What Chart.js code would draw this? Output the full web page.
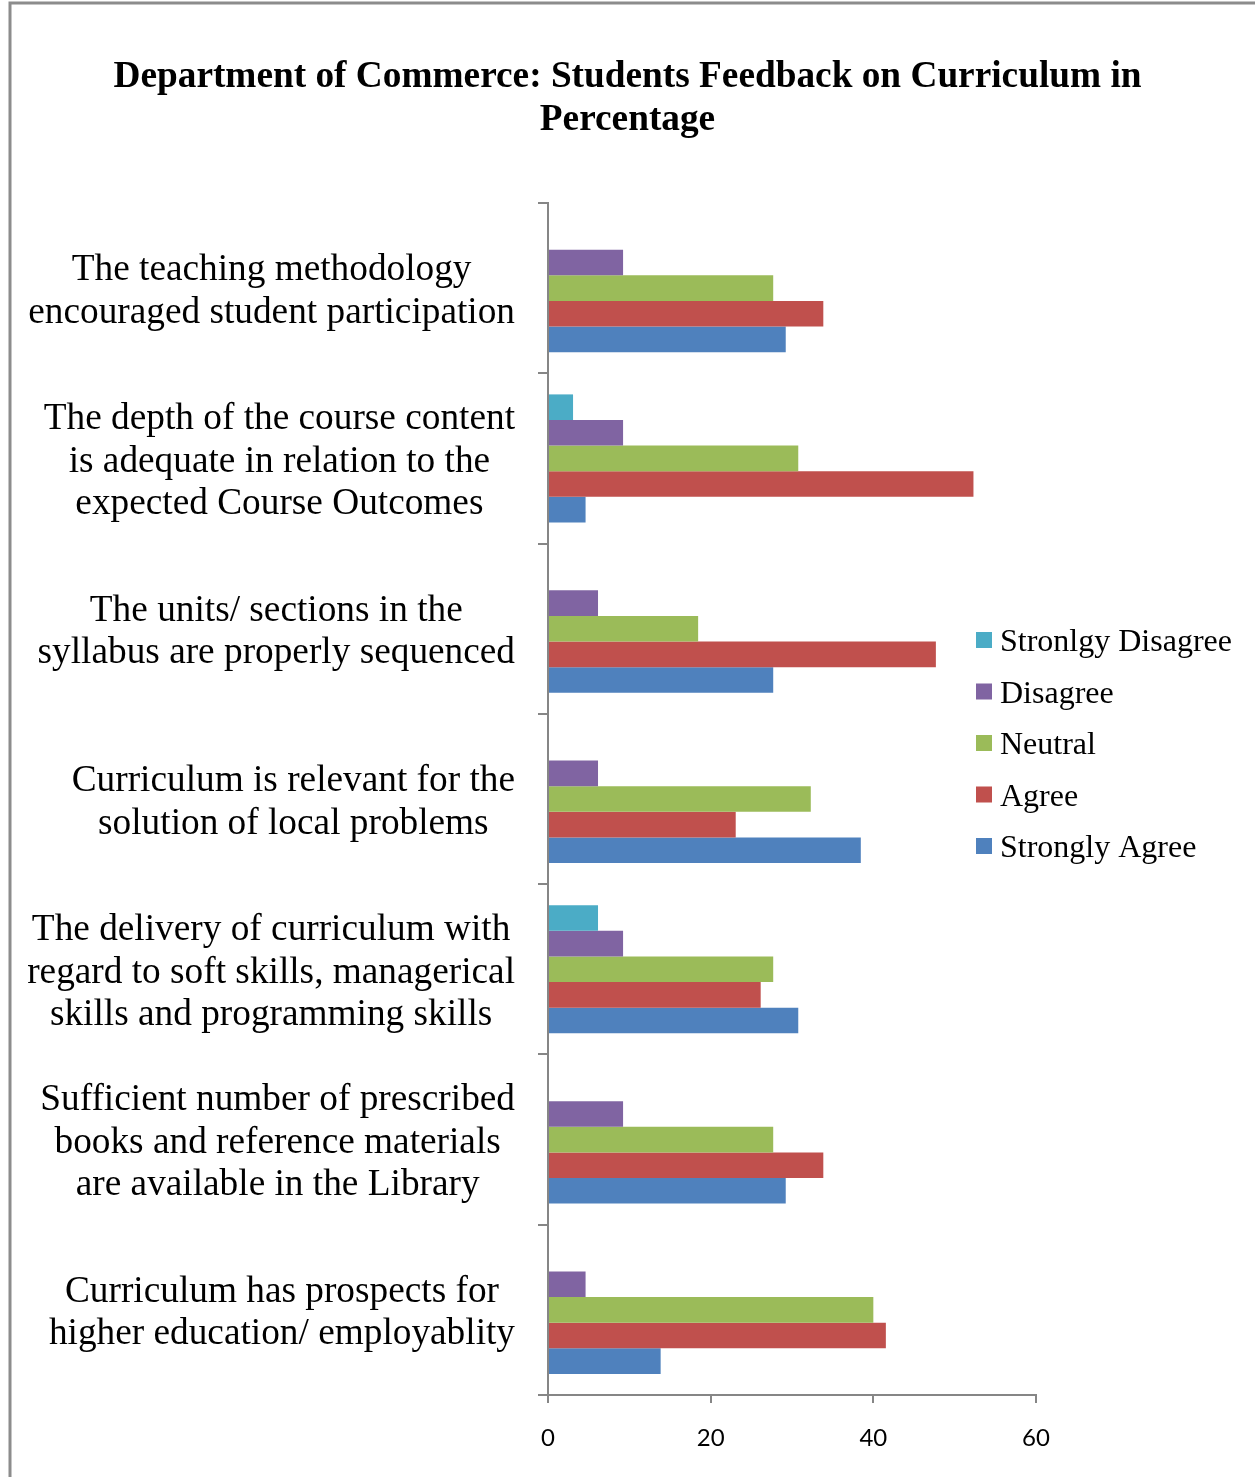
<!DOCTYPE html>
<html>
<head>
<meta charset="utf-8">
<style>
  body { margin: 0; background: #fff; }
</style>
<script src="https://cdn.jsdelivr.net/npm/chart.js@4"></script>
</head>
<body>
<canvas id="grafico" width="1255" height="1477"></canvas>
<script>
// Dados =====================================================================

const categories = [
  ["The teaching methodology", "encouraged student participation"],
  ["The depth of the course content", "is adequate in relation to the", "expected Course Outcomes"],
  ["The units/ sections in the", "syllabus are properly sequenced"],
  ["Curriculum is relevant for the", "solution of local problems"],
  ["The delivery of curriculum with", "regard to soft skills, managerical", "skills and programming skills"],
  ["Sufficient number of prescribed", "books and reference materials", "are available in the Library"],
  ["Curriculum has prospects for", "higher education/ employablity"],
];

const stronglyDisagree = [0, 3.08, 0, 0, 6.15, 0, 0];
const disagree = [9.23, 9.23, 6.15, 6.15, 9.23, 9.23, 4.62];
const neutral = [27.69, 30.77, 18.46, 32.31, 27.69, 27.69, 40.0];
const agree = [33.85, 52.31, 47.69, 23.08, 26.15, 33.85, 41.54];
const stronglyAgree = [29.23, 4.62, 27.69, 38.46, 30.77, 29.23, 13.85];

const xTicks = [0, 20, 40, 60];

const serif = "'Times New Roman', 'Liberation Serif', serif";
const axisColor = "#868686";

// Plugin: moldura, rótulos do eixo y e legenda =================================

const extras = {
  id: "extras",
  beforeDraw(chart) {
    const ctx = chart.ctx;
    ctx.save();
    ctx.fillStyle = "#fff";
    ctx.fillRect(0, 0, chart.width, chart.height);
    ctx.strokeStyle = "#8c8c8c";
    ctx.lineWidth = 3;
    ctx.beginPath();
    ctx.moveTo(10, chart.height);
    ctx.lineTo(10, 3);
    ctx.lineTo(chart.width, 3);
    ctx.stroke();
    ctx.restore();
  },
  afterDraw(chart) {
    const ctx = chart.ctx;
    const y = chart.scales.y;
    ctx.save();
    ctx.fillStyle = "#000";
    ctx.font = "37.3px " + serif;
    ctx.textAlign = "center";
    ctx.textBaseline = "middle";
    const right = y.right - 33;
    categories.forEach((lines, i) => {
      const widest = Math.max(...lines.map((l) => ctx.measureText(l).width));
      const cx = right - widest / 2;
      const cy = y.getPixelForTick(i) + 3.5;
      lines.forEach((line, j) => {
        ctx.fillText(line, cx, cy + (j - (lines.length - 1) / 2) * 42.5);
      });
    });

    // legenda
    ctx.font = "32px " + serif;
    ctx.textAlign = "left";
    chart.data.datasets.forEach((ds, i) => {
      const ly = 640 + i * 51.5;
      ctx.fillStyle = ds.backgroundColor;
      ctx.fillRect(976, ly - 8, 16, 16);
      ctx.fillStyle = "#000";
      ctx.fillText(ds.label, 1000, ly + 3);
    });
    ctx.restore();
  },
};

// Gráfico =====================================================================

const data = {
  labels: categories,
  datasets: [
    { label: "Stronlgy Disagree", data: stronglyDisagree, backgroundColor: "#4BACC6", yAxisID: "y" },
    { label: "Disagree", data: disagree, backgroundColor: "#8064A2", yAxisID: "y" },
    { label: "Neutral", data: neutral, backgroundColor: "#9BBB59", yAxisID: "y" },
    { label: "Agree", data: agree, backgroundColor: "#C0504D", yAxisID: "y" },
    { label: "Strongly Agree", data: stronglyAgree, backgroundColor: "#4F81BD", yAxisID: "y" },
  ],
};

const config = {
  type: "bar",
  data: data,
  plugins: [extras],
  options: {
    indexAxis: "y",
    responsive: false,
    animation: false,
    devicePixelRatio: 1,
    categoryPercentage: 0.752,
    barPercentage: 1.0,
    layout: { padding: 0 },
    plugins: {
      legend: { display: false },
      tooltip: { enabled: false },
      title: {
        display: true,
        text: ["Department of Commerce: Students Feedback on Curriculum in", "Percentage"],
        color: "#000",
        font: { family: serif, size: 37.3, weight: "bold", lineHeight: 43 / 37.3 },
        padding: { top: 56, bottom: 61 },
      },
    },
    scales: {
      x: {
        min: 0,
        max: 60,
        afterBuildTicks: (scale) => {
          scale.ticks = xTicks.map((v) => ({ value: v }));
        },
        afterFit: (scale) => {
          scale.height = 82;
        },
        grid: { drawOnChartArea: false, drawTicks: true, tickLength: 8, color: axisColor, lineWidth: 2 },
        border: { color: axisColor, width: 2 },
        ticks: { color: "#000", font: { family: "Lato, 'Open Sans', sans-serif", size: 24 }, padding: 21 },
      },
      y: {
        afterFit: (scale) => {
          scale.width = 548;
        },
        grid: { drawOnChartArea: false, drawTicks: true, tickLength: 10, color: axisColor, lineWidth: 2 },
        border: { color: axisColor, width: 2 },
        ticks: { display: false },
      },
      // espaço à direita onde fica a legenda
      yRight: {
        type: "category",
        axis: "y",
        position: "right",
        display: true,
        afterFit: (scale) => {
          scale.width = 219;
        },
        grid: { display: false },
        border: { display: false },
        ticks: { display: false },
      },
    },
  },
};

const grafico = new Chart(document.getElementById("grafico"), config);
</script>
</body>
</html>
